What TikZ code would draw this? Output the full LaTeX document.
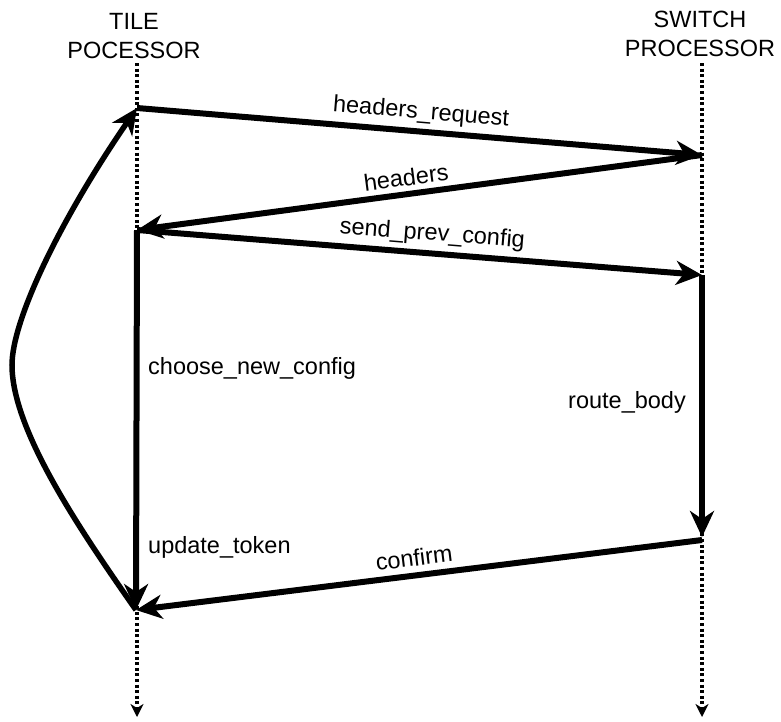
\documentclass[tikz,border=0pt]{standalone}
\usepackage{fontspec}
\setmainfont{Liberation Sans}
\usetikzlibrary{arrows.meta}
\begin{document}
\begin{tikzpicture}[x=1pt,y=-1pt,
  msg/.style={line width=6pt, -{Stealth[length=26pt,width=24pt,inset=8pt]}},
  loopback/.style={line width=5.5pt, -{Stealth[length=26pt,width=24pt,inset=8pt]}},
  life/.style={line width=3.4pt, dash pattern=on 3pt off 2.6pt,
    -{Stealth[length=13pt,width=13pt,inset=4pt]}},
  lbl/.style={font=\fontsize{23.5}{29}\selectfont, inner sep=1pt},
  head/.style={font=\fontsize{23.5}{29}\selectfont, align=center, inner sep=0pt}]
\useasboundingbox (0,0) rectangle (781,721);

% processor titles
\node[head] (tile)   at (134,36) {TILE\\POCESSOR};
\node[head] (switch) at (700,34) {SWITCH\\PROCESSOR};

% lifeline ends
\coordinate (tTop) at (137,63);
\coordinate (tEnd) at (137,717);
\coordinate (sTop) at (702,63);
\coordinate (sEnd) at (702,717);

% events on the lifelines
\coordinate (t1) at (137,108);
\coordinate (s1) at (702,155);
\coordinate (t2) at (137,230);
\coordinate (s2) at (702,275);
\coordinate (s3) at (702,537);
\coordinate (s3b) at (702,540);
\coordinate (t3) at (136,610);

% lifelines
\draw[life] (tTop) -- (tEnd);
\draw[life] (sTop) -- (sEnd);

% messages
\draw[msg] (t1) -- node[lbl, sloped, above=4pt] (lreq) {headers\_request} (s1);
\draw[msg] (s1) -- node[lbl, sloped, above=4pt, pos=0.52] (lhdr) {headers} (t2);
\draw[msg] (t2) -- node[lbl, sloped, above=4pt, pos=0.52] (lsend) {send\_prev\_config} (s2);
\draw[msg] (s3b) -- node[lbl, sloped, above=5pt, pos=0.505] (lconf) {confirm} (t3);

% local activity
\draw[msg] (t2) -- (t3);
\draw[msg] (s2) -- (s3);
\node[lbl, anchor=west] (lchoose) at (147,368) {choose\_new\_config};
\node[lbl, anchor=west] (lupd) at (147,547) {update\_token};
\node[lbl, anchor=east] (lroute) at (687,402) {route\_body};

% repeat loop
\draw[loopback] (t3) .. controls (80,530) and (12,430) .. (12,365)
  .. controls (12,320) and (60,220) .. (t1);
\end{tikzpicture}
\end{document}
